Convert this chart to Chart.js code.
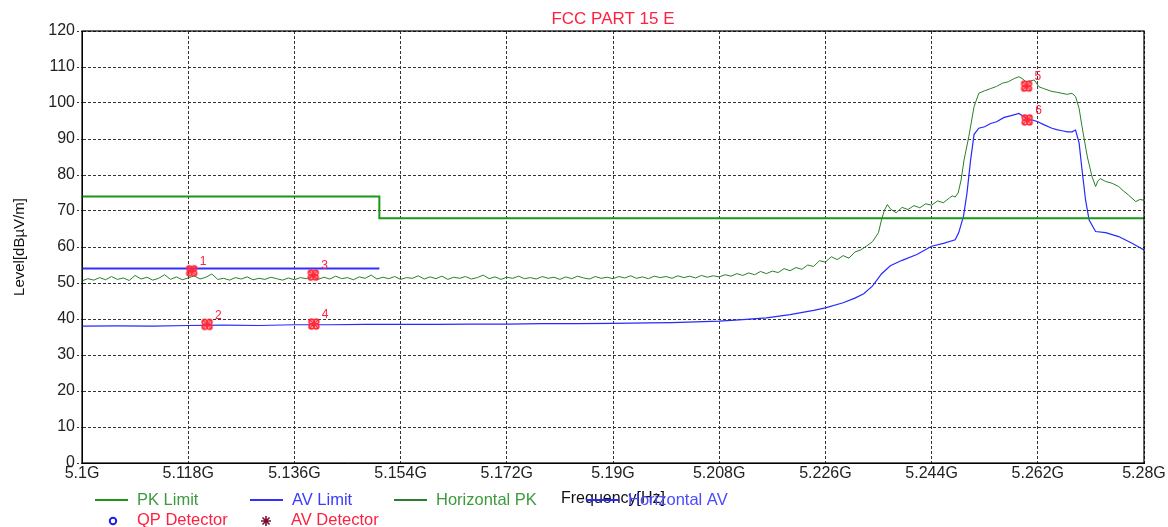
<!DOCTYPE html>
<html>
<head>
<meta charset="utf-8">
<script src="https://cdn.jsdelivr.net/npm/chart.js@4.4.0/dist/chart.umd.min.js"></script>
<style>
  html, body { margin: 0; padding: 0; background: #fff; }
  #wrap { width: 1168px; height: 527px; }
</style>
</head>
<body>
<div id="wrap"><canvas id="emiChart" width="1168" height="527"></canvas></div>
<script>
// axis ticks
const xTickVals = [5.1, 5.118, 5.136, 5.154, 5.172, 5.19, 5.208, 5.226, 5.244, 5.262, 5.28];
const xTickLabels = ['5.1G', '5.118G', '5.136G', '5.154G', '5.172G', '5.19G', '5.208G', '5.226G', '5.244G', '5.262G', '5.28G'];

// limits [GHz, dBuV/m]
const pkLimit = [[5.1, 74], [5.1504, 74], [5.1504, 68], [5.28, 68]];
const avLimit = [[5.1, 54], [5.1504, 54]];

// horizontal peak trace
const pkTrace = [
  [5.100, 50.6], [5.101, 51.2], [5.102, 50.8], [5.103, 51.5], [5.104, 50.9], [5.105, 51.8], [5.106, 51.0], [5.107, 51.4],
  [5.108, 50.7], [5.109, 52.1], [5.110, 51.1], [5.111, 51.6], [5.112, 50.8], [5.113, 51.3], [5.114, 52.3], [5.115, 51.0],
  [5.116, 51.7], [5.117, 50.9], [5.118, 51.4], [5.119, 52.0], [5.120, 51.1], [5.121, 51.6], [5.122, 52.5], [5.123, 51.0],
  [5.124, 51.3], [5.125, 50.8], [5.126, 51.5], [5.127, 51.1], [5.128, 51.7], [5.129, 50.9], [5.130, 51.3], [5.131, 51.0],
  [5.132, 51.6], [5.133, 51.2], [5.134, 50.8], [5.135, 51.4], [5.136, 50.9], [5.137, 51.5], [5.138, 51.2], [5.139, 51.8],
  [5.140, 51.0], [5.141, 51.6], [5.142, 51.1], [5.143, 51.9], [5.144, 51.2], [5.145, 51.5], [5.146, 50.9], [5.147, 51.7],
  [5.148, 51.3], [5.149, 52.2], [5.150, 51.1], [5.151, 51.6], [5.152, 51.2], [5.153, 51.8], [5.154, 51.0], [5.155, 51.5],
  [5.156, 51.3], [5.157, 52.0], [5.158, 51.1], [5.159, 51.7], [5.160, 51.2], [5.161, 51.9], [5.162, 51.0], [5.163, 51.6],
  [5.164, 51.3], [5.165, 51.8], [5.166, 51.1], [5.167, 51.5], [5.168, 52.2], [5.169, 51.2], [5.170, 51.7], [5.171, 51.0],
  [5.172, 51.6], [5.173, 51.3], [5.174, 51.9], [5.175, 51.2], [5.176, 51.5], [5.177, 51.1], [5.178, 51.8], [5.179, 51.3],
  [5.180, 51.6], [5.181, 51.0], [5.182, 51.7], [5.183, 51.2], [5.184, 51.9], [5.185, 51.4], [5.186, 51.1], [5.187, 51.8],
  [5.188, 51.3], [5.189, 51.6], [5.190, 51.2], [5.191, 51.8], [5.192, 51.4], [5.193, 52.0], [5.194, 51.3], [5.195, 51.7],
  [5.196, 51.2], [5.197, 51.9], [5.198, 51.5], [5.199, 51.8], [5.200, 51.3], [5.201, 52.0], [5.202, 51.5], [5.203, 51.9],
  [5.204, 51.4], [5.205, 52.1], [5.206, 51.6], [5.207, 52.0], [5.208, 51.7], [5.209, 52.3], [5.210, 51.9], [5.211, 52.6],
  [5.212, 52.1], [5.213, 52.8], [5.214, 52.3], [5.215, 53.2], [5.216, 52.6], [5.217, 53.3], [5.218, 52.9], [5.219, 54.0],
  [5.220, 53.4], [5.221, 54.3], [5.222, 53.8], [5.223, 55.0], [5.224, 54.6], [5.225, 56.2], [5.226, 55.8], [5.227, 57.3],
  [5.228, 56.5], [5.229, 57.6], [5.230, 56.9], [5.231, 58.6], [5.232, 59.2], [5.233, 60.3], [5.234, 61.5], [5.235, 64.0],
  [5.2355, 67.5], [5.236, 70.2], [5.2365, 71.8], [5.237, 70.6], [5.238, 69.5], [5.239, 71.0], [5.240, 70.4], [5.241, 71.5],
  [5.242, 70.9], [5.243, 72.0], [5.244, 71.6], [5.245, 72.8], [5.246, 72.3], [5.247, 73.6], [5.2475, 74.2], [5.248, 73.9],
  [5.2485, 75.0], [5.249, 78.6], [5.2495, 84.2], [5.2503, 90.6], [5.2512, 99.0], [5.252, 102.7], [5.253, 103.4], [5.254, 104.0],
  [5.255, 104.6], [5.256, 105.5], [5.257, 105.9], [5.258, 106.8], [5.2588, 107.3], [5.2595, 106.6], [5.260, 105.9], [5.2607, 106.1],
  [5.2614, 106.4], [5.2622, 104.5], [5.263, 104.0], [5.2644, 103.2], [5.2652, 103.0], [5.2661, 102.7], [5.267, 102.4], [5.2678, 102.7],
  [5.2684, 101.8], [5.269, 98.5], [5.2695, 93.4], [5.2704, 85.0], [5.2712, 79.5], [5.2718, 76.8], [5.2722, 78.4], [5.2726, 79.0],
  [5.2735, 78.2], [5.2746, 77.7], [5.2757, 76.8], [5.2765, 75.6], [5.2774, 74.4], [5.2786, 72.6], [5.2793, 73.2], [5.280, 73.0]
];

// horizontal average trace
const avTrace = [
  [5.100, 38.0], [5.106, 38.1], [5.112, 38.0], [5.118, 38.2], [5.124, 38.3], [5.130, 38.2], [5.136, 38.4], [5.142, 38.4],
  [5.148, 38.5], [5.154, 38.5], [5.160, 38.5], [5.166, 38.6], [5.172, 38.6], [5.178, 38.7], [5.184, 38.7], [5.190, 38.8],
  [5.196, 38.9], [5.200, 39.0], [5.204, 39.2], [5.208, 39.4], [5.212, 39.8], [5.216, 40.3], [5.220, 41.2], [5.224, 42.4],
  [5.226, 43.1], [5.229, 44.5], [5.231, 45.8], [5.2325, 47.0], [5.234, 49.2], [5.2355, 52.5], [5.237, 54.8], [5.239, 56.3],
  [5.2415, 57.9], [5.244, 60.2], [5.246, 61.0], [5.248, 62.0], [5.2486, 64.0], [5.2494, 68.5], [5.250, 75.0], [5.2506, 84.0],
  [5.2512, 91.3], [5.252, 93.0], [5.253, 93.4], [5.254, 94.3], [5.255, 94.8], [5.2563, 96.0], [5.2575, 96.5], [5.2588, 97.1],
  [5.2595, 96.3], [5.2605, 95.6], [5.262, 94.8], [5.263, 94.0], [5.2644, 93.0], [5.2652, 92.6], [5.2661, 92.3], [5.267, 92.0],
  [5.2678, 92.0], [5.2684, 92.5], [5.269, 88.9], [5.2695, 81.4], [5.2701, 73.0], [5.2707, 67.5], [5.2718, 64.3], [5.2735, 64.0],
  [5.2757, 62.9], [5.2779, 61.1], [5.280, 59.2]
];

// marker points
const markerNames = ['1', '2', '3', '4', '5', '6'];
const markerFreq = [5.1186, 5.1212, 5.1392, 5.1393, 5.2601, 5.2602];
const markerLevel = [53.4, 38.5, 52.2, 38.6, 104.7, 95.3];

const FONT = "'Liberation Sans', Arial, sans-serif";
const toXY = arr => arr.map(p => ({ x: p[0], y: p[1] }));

function makeMarker() {
  const c = document.createElement('canvas');
  c.width = 14; c.height = 14;
  const g = c.getContext('2d');
  g.strokeStyle = '#ff2a3a';
  g.lineWidth = 1.6;
  [[4.5, 4.5], [9.5, 4.5], [4.5, 9.5], [9.5, 9.5]].forEach(([x, y]) => {
    g.beginPath(); g.arc(x, y, 2.4, 0, Math.PI * 2); g.stroke();
  });
  g.beginPath();
  g.moveTo(3, 3); g.lineTo(11, 11);
  g.moveTo(11, 3); g.lineTo(3, 11);
  g.stroke();
  return c;
}

const overlay = {
  id: 'overlay',
  afterDraw(chart) {
    const ctx = chart.ctx;
    const a = chart.chartArea;
    ctx.save();
    // frame
    ctx.strokeStyle = '#000';
    ctx.lineWidth = 1.2;
    ctx.strokeRect(a.left, a.top, a.right - a.left, a.bottom - a.top);

    // title
    ctx.fillStyle = '#ff2040';
    ctx.font = '17px ' + FONT;
    ctx.textAlign = 'center';
    ctx.textBaseline = 'middle';
    ctx.fillText('FCC PART 15 E', 613, 19);

    // marker numbers
    const meta = chart.getDatasetMeta(0);
    ctx.font = '12px ' + FONT;
    ctx.textAlign = 'left';
    meta.data.forEach((pt, i) => {
      ctx.fillText(markerNames[i], pt.x + 8, pt.y - 9);
    });

    // legend
    ctx.font = '16.5px ' + FONT;
    const row1 = 500, row2 = 520;
    const lineItems = [
      { x: 95, color: '#1a961a', text: 'PK Limit', tc: '#3d9a3d' },
      { x: 250, color: '#3030ff', text: 'AV Limit', tc: '#3a3aff' },
      { x: 394, color: '#2a7f2a', text: 'Horizontal PK', tc: '#3d9a3d' },
      { x: 586, color: '#2828ff', text: 'Horizontal AV', tc: '#4a4aff' }
    ];
    lineItems.forEach(it => {
      ctx.strokeStyle = it.color;
      ctx.lineWidth = 2;
      ctx.beginPath();
      ctx.moveTo(it.x, row1); ctx.lineTo(it.x + 33, row1);
      ctx.stroke();
      ctx.fillStyle = it.tc;
      ctx.fillText(it.text, it.x + 42, row1);
    });
    // QP detector
    ctx.strokeStyle = '#2020e0';
    ctx.lineWidth = 2;
    ctx.beginPath(); ctx.arc(113, row2 + 1, 3.2, 0, Math.PI * 2); ctx.stroke();
    ctx.fillStyle = '#ff2040';
    ctx.fillText('QP Detector', 137, row2);
    // AV detector star
    ctx.strokeStyle = '#7a1030';
    ctx.lineWidth = 1.6;
    ctx.beginPath();
    for (let k = 0; k < 8; k++) {
      const ang = k * Math.PI / 4;
      ctx.moveTo(266, row2 + 1);
      ctx.lineTo(266 + Math.cos(ang) * 5, row2 + 1 + Math.sin(ang) * 5);
    }
    ctx.stroke();
    ctx.fillStyle = '#ff2040';
    ctx.fillText('AV Detector', 291, row2);
    ctx.restore();
  }
};

new Chart(document.getElementById('emiChart'), {
  type: 'line',
  data: {
    datasets: [
      {
        type: 'scatter',
        label: 'Markers',
        data: markerFreq.map((f, i) => ({ x: f, y: markerLevel[i] })),
        pointStyle: makeMarker(),
        pointRadius: 7,
        showLine: false
      },
      {
        label: 'AV Limit',
        data: toXY(avLimit),
        borderColor: '#3030ff',
        borderWidth: 2
      },
      {
        label: 'PK Limit',
        data: toXY(pkLimit),
        borderColor: '#1a961a',
        borderWidth: 2
      },
      {
        label: 'Horizontal AV',
        data: toXY(avTrace),
        borderColor: '#2828ff',
        borderWidth: 1.2
      },
      {
        label: 'Horizontal PK',
        data: toXY(pkTrace),
        borderColor: '#2a7f2a',
        borderWidth: 1
      }
    ]
  },
  options: {
    responsive: false,
    animation: false,
    devicePixelRatio: 1,
    layout: { padding: { top: 31, right: 24, left: 0, bottom: 0 } },
    elements: {
      point: { radius: 0 },
      line: { tension: 0, fill: false }
    },
    plugins: {
      legend: { display: false },
      title: { display: false },
      tooltip: { enabled: false }
    },
    scales: {
      x: {
        type: 'linear',
        min: 5.1,
        max: 5.28,
        afterBuildTicks: s => { s.ticks = xTickVals.map(v => ({ value: v })); },
        afterFit: s => { s.height = 64; },
        ticks: {
          autoSkip: false,
          maxRotation: 0,
          padding: 1,
          color: '#222',
          font: { family: FONT, size: 16 },
          callback: (v, i) => xTickLabels[i]
        },
        grid: { color: '#333', lineWidth: 1, drawTicks: false },
        border: { display: true, color: '#000', width: 1, dash: [3, 2] },
        title: {
          display: true,
          text: 'Frequency[Hz]',
          color: '#111',
          font: { family: FONT, size: 16 },
          padding: { top: 0, bottom: 19 }
        }
      },
      y: {
        min: 0,
        max: 120,
        afterFit: s => { s.width = 82; },
        ticks: {
          stepSize: 10,
          padding: 2,
          color: '#222',
          font: { family: FONT, size: 16 }
        },
        grid: { color: '#333', lineWidth: 1, tickLength: 5, tickColor: '#333', tickBorderDash: [2, 2] },
        border: { display: true, color: '#000', width: 1, dash: [3, 2] },
        title: {
          display: true,
          text: 'Level[dBµV/m]',
          color: '#111',
          font: { family: FONT, size: 15 },
          padding: { top: 11, bottom: 0 }
        }
      }
    }
  },
  plugins: [overlay]
});
</script>
</body>
</html>
